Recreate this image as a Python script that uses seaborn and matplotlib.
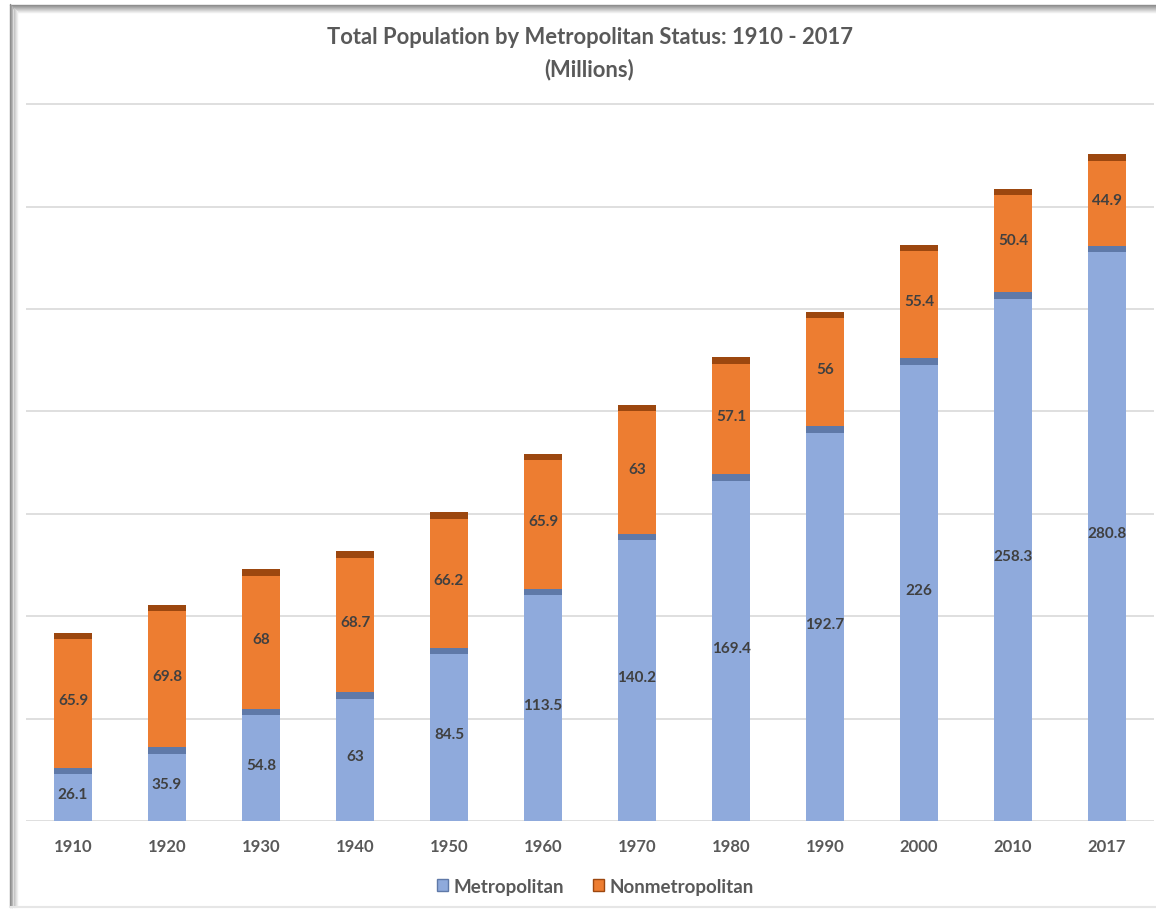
import matplotlib
matplotlib.use("Agg")
import matplotlib.pyplot as plt
import numpy as np
import pandas as pd
import seaborn as sns
from matplotlib.lines import Line2D
from matplotlib.patches import Patch

years = ["1910", "1920", "1930", "1940", "1950", "1960",
         "1970", "1980", "1990", "2000", "2010", "2017"]
metro = [26.1, 35.9, 54.8, 63, 84.5, 113.5, 140.2, 169.4, 192.7, 226, 258.3, 280.8]
nonmetro = [65.9, 69.8, 68, 68.7, 66.2, 65.9, 63, 57.1, 56, 55.4, 50.4, 44.9]

title = "Total Population by Metropolitan Status: 1910 - 2017\n(Millions)"

BLUE = "#8FAADC"
BLUE_TOP = "#5F79A8"
ORANGE = "#ED7D31"
ORANGE_TOP = "#9C470F"
TXT = "#595959"
LBL = "#404040"

sns.set_theme(style="white")
plt.rcParams["font.family"] = ["Lato", "DejaVu Sans"]

df = pd.DataFrame({"year": years, "metro": metro, "nonmetro": nonmetro})
df["total"] = df["metro"] + df["nonmetro"]

fig = plt.figure(figsize=(11.56, 9.12), dpi=100)
ax = fig.add_axes([0.0225, 0.0987, 0.9758, 0.7873])

# stacked bars: totals in orange, metro drawn over them
sns.barplot(data=df, x="year", y="total", color=ORANGE, width=0.4,
            saturation=1, linewidth=0, ax=ax, zorder=2)
sns.barplot(data=df, x="year", y="metro", color=BLUE, width=0.4,
            saturation=1, linewidth=0, ax=ax, zorder=3)

# darker bevel strip on top of each segment
strip = 3.2
pos = np.arange(len(years))
ax.bar(pos, strip, bottom=df["total"] - strip, width=0.4, color=ORANGE_TOP,
       linewidth=0, zorder=4)
ax.bar(pos, strip, bottom=df["metro"] - strip, width=0.4, color=BLUE_TOP,
       linewidth=0, zorder=4)

for i, (m, n) in enumerate(zip(metro, nonmetro)):
    ax.text(i, m / 2, f"{m:g}", ha="center", va="center", fontsize=11,
            fontweight="bold", color=LBL, zorder=5)
    ax.text(i, m + n / 2, f"{n:g}", ha="center", va="center", fontsize=11,
            fontweight="bold", color=LBL, zorder=5)

ax.set_xlim(-0.5, len(years) - 0.5)
ax.set_ylim(0, 350.6)
ax.set_yticks(np.arange(0, 351, 50))
ax.set_yticklabels([])
ax.yaxis.grid(True, color="#D9D9D9", linewidth=1.2)
ax.set_axisbelow(True)
ax.set_xlabel("")
ax.set_ylabel("")
ax.tick_params(axis="x", length=0, pad=12, labelsize=12, labelcolor=TXT)
ax.tick_params(axis="y", length=0)
for lab in ax.get_xticklabels():
    lab.set_fontweight("bold")
sns.despine(ax=ax, left=True, bottom=True)

fig.text(0.51, 0.97, title, ha="center", va="top", fontsize=15.8,
         fontweight="bold", color=TXT, linespacing=1.6)

handles = [Patch(facecolor=BLUE, edgecolor=BLUE_TOP, linewidth=1),
           Patch(facecolor=ORANGE, edgecolor=ORANGE_TOP, linewidth=1)]
leg = fig.legend(handles, ["Metropolitan", "Nonmetropolitan"], loc="center",
                 bbox_to_anchor=(0.515, 0.027), ncol=2, frameon=False,
                 handlelength=0.6, handleheight=0.6, handletextpad=0.3,
                 columnspacing=1.5, prop={"size": 13.5, "weight": "bold"})
for t in leg.get_texts():
    t.set_color(TXT)

# grey frame shading along left and top edges
W, H = 1156, 912
for k in range(8):
    g = 0.55 + k * 0.055
    c = (g, g, g)
    fig.add_artist(Line2D([(9.5 + k) / W] * 2, [4 / H, 1 - (5 + k) / H],
                          transform=fig.transFigure, color=c, linewidth=1))
    fig.add_artist(Line2D([(9.5 + k) / W, 1], [1 - (5.5 + k) / H] * 2,
                          transform=fig.transFigure, color=c, linewidth=1))
fig.add_artist(Line2D([9.5 / W, 1], [4 / H] * 2, transform=fig.transFigure,
                      color="#E6E6E6", linewidth=1.5))

fig.savefig("out.png", dpi=100)
